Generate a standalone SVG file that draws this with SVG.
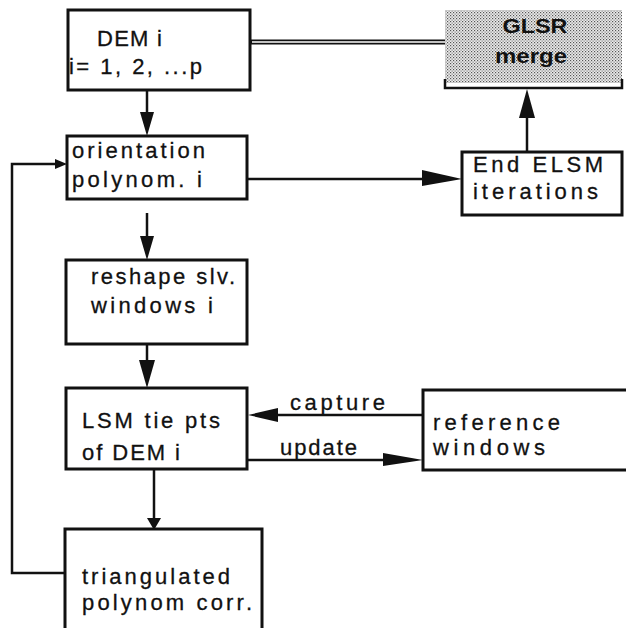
<svg xmlns="http://www.w3.org/2000/svg" width="626" height="628" viewBox="0 0 626 628">
<style>
.box{fill:#fff;stroke:#111;stroke-width:3}
.t{font-family:"Liberation Sans",Arial,sans-serif;font-size:22px;fill:#111;stroke:#111;stroke-width:0.3}
.tb{font-family:"Liberation Sans",Arial,sans-serif;font-size:20px;font-weight:bold;fill:#111}
.ln{fill:none;stroke:#111;stroke-width:2.5}
.ah{fill:#111}
</style>
<defs>
<pattern id="dots" width="3" height="3" patternUnits="userSpaceOnUse">
<rect width="3" height="3" fill="#ececec"/>
<rect x="0" y="0" width="1.2" height="1.2" fill="#555"/>
<rect x="1.5" y="1.5" width="1.2" height="1.2" fill="#777"/>
</pattern>
</defs>
<rect width="626" height="628" fill="#fff"/>
<g id="connectors">
<line x1="250" y1="42" x2="445" y2="42" stroke="#111" stroke-width="5"/>
<line x1="252" y1="42" x2="445" y2="42" stroke="#fff" stroke-width="1.4"/>
<line class="ln" x1="147" y1="90" x2="147" y2="114"/>
<polygon class="ah" points="140,112 154,112 147,136"/>
<line class="ln" x1="247" y1="179" x2="424" y2="179"/>
<polygon class="ah" points="422,170 462,179 422,186"/>
<line class="ln" x1="527" y1="152" x2="527" y2="116"/>
<polygon class="ah" points="519,118 535,118 527,89"/>
<line class="ln" x1="147" y1="213" x2="147" y2="238"/>
<polygon class="ah" points="140,236 154,236 147,260"/>
<line class="ln" x1="147" y1="344" x2="147" y2="362"/>
<polygon class="ah" points="139,360 155,360 147,388"/>
<line class="ln" x1="423" y1="415" x2="276" y2="415"/>
<polygon class="ah" points="278,408 278,422 248,415"/>
<line class="ln" x1="247" y1="460" x2="385" y2="460"/>
<polygon class="ah" points="383,453 423,460 383,466"/>
<line class="ln" x1="154" y1="469" x2="154" y2="520"/>
<polygon class="ah" points="147,518 161,518 154,530"/>
<polyline class="ln" points="65,573 12,573 12,164 56,164"/>
<polygon class="ah" points="55,159 55,169 67,164"/>
</g>
<g id="dem">
<rect class="box" x="68" y="10" width="182" height="80"/>
<text class="t" x="97" y="46" textLength="65" lengthAdjust="spacing">DEM i</text>
<text class="t" x="69" y="74" textLength="133" lengthAdjust="spacing">i= 1, 2, ...p</text>
</g>
<g id="glsr">
<rect x="445" y="10" width="177" height="73" fill="url(#dots)"/>
<path d="M445,79 V88 H622 V79" fill="none" stroke="#111" stroke-width="2.5"/>
<text class="tb" x="535" y="33" text-anchor="middle" textLength="65" lengthAdjust="spacingAndGlyphs">GLSR</text>
<text class="tb" x="531" y="63" text-anchor="middle" textLength="72" lengthAdjust="spacingAndGlyphs">merge</text>
</g>
<g id="orientation">
<rect class="box" x="67" y="136" width="180" height="63"/>
<text class="t" x="72" y="158" textLength="133" lengthAdjust="spacing">orientation</text>
<text class="t" x="72" y="187" textLength="130" lengthAdjust="spacing">polynom. i</text>
</g>
<g id="end-elsm">
<rect class="box" x="462" y="152" width="160" height="63"/>
<text class="t" x="473" y="172" textLength="130" lengthAdjust="spacing">End ELSM</text>
<text class="t" x="473" y="199" textLength="125" lengthAdjust="spacing">iterations</text>
</g>
<g id="reshape">
<rect class="box" x="66" y="260" width="181" height="84"/>
<text class="t" x="91" y="284" textLength="144" lengthAdjust="spacing">reshape slv.</text>
<text class="t" x="91" y="313" textLength="122" lengthAdjust="spacing">windows i</text>
</g>
<g id="lsm">
<rect class="box" x="66" y="388" width="181" height="81"/>
<text class="t" x="82" y="428" textLength="138" lengthAdjust="spacing">LSM tie pts</text>
<text class="t" x="82" y="460" textLength="98" lengthAdjust="spacing">of DEM i</text>
</g>
<g id="reference">
<rect class="box" x="423" y="390" width="210" height="80"/>
<text class="t" x="433" y="430" textLength="127" lengthAdjust="spacing">reference</text>
<text class="t" x="433" y="455" textLength="112" lengthAdjust="spacing">windows</text>
</g>
<g id="labels">
<text class="t" x="290" y="410" textLength="95" lengthAdjust="spacing">capture</text>
<text class="t" x="280" y="455" textLength="77" lengthAdjust="spacing">update</text>
</g>
<g id="triangulated">
<rect class="box" x="65" y="529" width="197" height="110"/>
<text class="t" x="82" y="584" textLength="148" lengthAdjust="spacing">triangulated</text>
<text class="t" x="82" y="610" textLength="170" lengthAdjust="spacing">polynom corr.</text>
</g>
</svg>
